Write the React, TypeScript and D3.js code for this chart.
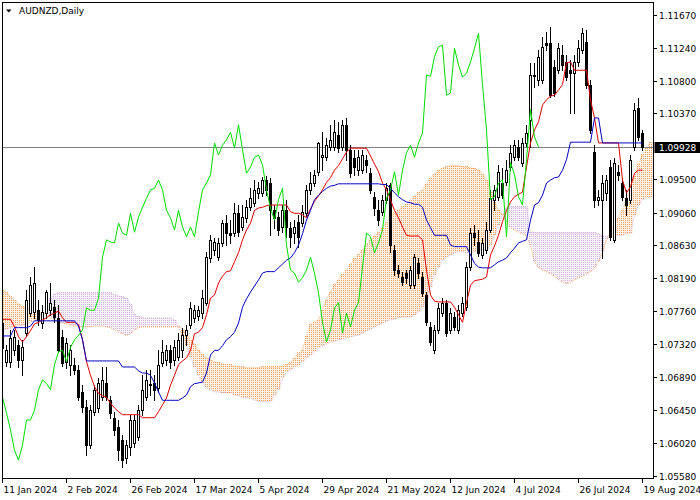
import React from 'react';
import * as d3 from 'd3';

// ---------- DATA ----------
const chartTitle = 'AUDNZD,Daily';
const dateLabels = ['11 Jan 2024', '2 Feb 2024', '26 Feb 2024', '17 Mar 2024', '5 Apr 2024', '29 Apr 2024', '21 May 2024', '12 Jun 2024', '4 Jul 2024', '26 Jul 2024', '19 Aug 2024'];
const dateLabelBars = [0, 16, 32, 48, 64, 80, 96, 112, 128, 144, 160];
const priceTicks = [1.1167, 1.1124, 1.108, 1.1037, 1.095, 1.0906, 1.0863, 1.0819, 1.0776, 1.0732, 1.0689, 1.0645, 1.0602, 1.0558];
const lastPrice = 1.09928;
const chikouShift = 26;

const opens = [
  1.0760, 1.0709, 1.0709, 1.0724, 1.0731, 1.0711, 1.0747, 1.0773, 1.0775, 1.0777,
  1.0760, 1.0773, 1.0777, 1.0781, 1.0767, 1.0742, 1.0709, 1.0705, 1.0705, 1.0698,
  1.0669, 1.0649, 1.0599, 1.0643, 1.0648, 1.0662, 1.0681, 1.0658, 1.0635, 1.0623,
  1.0606, 1.0582, 1.0596, 1.0602, 1.0610, 1.0645, 1.0662, 1.0678, 1.0681, 1.0674,
  1.0707, 1.0711, 1.0724, 1.0711, 1.0715, 1.0724, 1.0744, 1.0758, 1.0767, 1.0769,
  1.0773, 1.0787, 1.0846, 1.0857, 1.0847, 1.0866, 1.0892, 1.0879, 1.0879, 1.0905,
  1.0887, 1.0899, 1.0913, 1.0919, 1.0932, 1.0932, 1.0949, 1.0945, 1.0909, 1.0900,
  1.0887, 1.0909, 1.0886, 1.0879, 1.0894, 1.0892, 1.0905, 1.0936, 1.0945, 1.0960,
  1.0979, 1.0979, 1.0993, 1.0993, 1.1009, 1.0993, 1.1022, 1.0989, 1.0978, 1.0962,
  1.0962, 1.0976, 1.0958, 1.0927, 1.0909, 1.0907, 1.0923, 1.0942, 1.0857, 1.0830,
  1.0821, 1.0826, 1.0810, 1.0810, 1.0839, 1.0821, 1.0797, 1.0755, 1.0724, 1.0751,
  1.0773, 1.0787, 1.0751, 1.0768, 1.0751, 1.0773, 1.0781, 1.0834, 1.0879, 1.0867,
  1.0850, 1.0857, 1.0883, 1.0923, 1.0927, 1.0945, 1.0946, 1.0966, 1.0979, 1.0993,
  1.0972, 1.0998, 1.1028, 1.1088, 1.1081, 1.1081, 1.1130, 1.1130, 1.1098, 1.1094,
  1.1114, 1.1105, 1.1094, 1.1090, 1.1105, 1.1121, 1.1131, 1.1075, 1.0986, 1.0923,
  1.0923, 1.0932, 1.0966, 1.0870, 1.0960, 1.0945, 1.0925, 1.0923, 1.0993, 1.1044, 1.1011,
];
const highs = [
  1.0767, 1.0731, 1.0751, 1.0751, 1.0738, 1.0738, 1.0804, 1.0821, 1.0834, 1.0791,
  1.0784, 1.0804, 1.0813, 1.0791, 1.0784, 1.0751, 1.0740, 1.0731, 1.0714, 1.0705,
  1.0678, 1.0658, 1.0652, 1.0678, 1.0687, 1.0702, 1.0702, 1.0664, 1.0643, 1.0632,
  1.0612, 1.0606, 1.0639, 1.0639, 1.0652, 1.0691, 1.0698, 1.0698, 1.0691, 1.0724,
  1.0738, 1.0731, 1.0731, 1.0738, 1.0747, 1.0754, 1.0758, 1.0788, 1.0784, 1.0783,
  1.0804, 1.0854, 1.0876, 1.0873, 1.0873, 1.0896, 1.0903, 1.0896, 1.0919, 1.0916,
  1.0916, 1.0923, 1.0938, 1.0949, 1.0946, 1.0953, 1.0954, 1.0952, 1.0916, 1.0907,
  1.0916, 1.0923, 1.0894, 1.0896, 1.0903, 1.0916, 1.0942, 1.0960, 1.0962, 1.0999,
  1.1012, 1.1005, 1.1022, 1.1028, 1.1026, 1.1028, 1.1031, 1.0995, 1.0989, 1.0989,
  1.0989, 1.0982, 1.0965, 1.0933, 1.0923, 1.0929, 1.0945, 1.0945, 1.0863, 1.0837,
  1.0828, 1.0830, 1.0835, 1.0851, 1.0846, 1.0828, 1.0801, 1.0761, 1.0758, 1.0787,
  1.0793, 1.0791, 1.0780, 1.0775, 1.0784, 1.0794, 1.0841, 1.0886, 1.0890, 1.0883,
  1.0873, 1.0894, 1.0936, 1.0942, 1.0969, 1.0965, 1.0976, 1.0995, 1.1002, 1.1002,
  1.1005, 1.1022, 1.1104, 1.1104, 1.1121, 1.1138, 1.1145, 1.1151, 1.1108, 1.1130,
  1.1127, 1.1114, 1.1108, 1.1114, 1.1134, 1.1150, 1.1147, 1.1081, 1.0995, 1.0936,
  1.0956, 1.0956, 1.0976, 1.0978, 1.0969, 1.0952, 1.0936, 1.0982, 1.1051, 1.1057, 1.1015,
];
const lows = [
  1.0722, 1.0703, 1.0702, 1.0718, 1.0702, 1.0691, 1.0743, 1.0769, 1.0767, 1.0758,
  1.0754, 1.0767, 1.0771, 1.0761, 1.0722, 1.0703, 1.0701, 1.0691, 1.0693, 1.0658,
  1.0643, 1.0586, 1.0595, 1.0639, 1.0643, 1.0658, 1.0658, 1.0635, 1.0612, 1.0579,
  1.0570, 1.0575, 1.0586, 1.0596, 1.0606, 1.0639, 1.0658, 1.0665, 1.0658, 1.0669,
  1.0703, 1.0705, 1.0701, 1.0705, 1.0711, 1.0715, 1.0731, 1.0754, 1.0761, 1.0764,
  1.0767, 1.0784, 1.0841, 1.0850, 1.0843, 1.0862, 1.0863, 1.0866, 1.0875, 1.0875,
  1.0883, 1.0894, 1.0909, 1.0915, 1.0925, 1.0928, 1.0929, 1.0876, 1.0886, 1.0876,
  1.0880, 1.0874, 1.0861, 1.0866, 1.0861, 1.0888, 1.0902, 1.0930, 1.0941, 1.0956,
  1.0962, 1.0976, 1.0989, 1.0989, 1.0986, 1.0989, 1.0976, 1.0953, 1.0956, 1.0956,
  1.0958, 1.0960, 1.0932, 1.0903, 1.0890, 1.0903, 1.0919, 1.0854, 1.0824, 1.0821,
  1.0810, 1.0813, 1.0806, 1.0806, 1.0820, 1.0796, 1.0758, 1.0731, 1.0720, 1.0747,
  1.0769, 1.0743, 1.0747, 1.0751, 1.0747, 1.0769, 1.0777, 1.0830, 1.0863, 1.0849,
  1.0846, 1.0853, 1.0880, 1.0909, 1.0923, 1.0925, 1.0942, 1.0962, 1.0976, 1.0976,
  1.0968, 1.0994, 1.0993, 1.1072, 1.1075, 1.1077, 1.1121, 1.1059, 1.1060, 1.1090,
  1.1094, 1.1081, 1.1038, 1.1038, 1.1100, 1.1117, 1.1071, 1.1011, 1.0913, 1.0916,
  1.0846, 1.0923, 1.0870, 1.0867, 1.0949, 1.0923, 1.0903, 1.0919, 1.0989, 1.1002, 1.0989,
];
const closes = [
  1.0727, 1.0724, 1.0740, 1.0742, 1.0711, 1.0728, 1.0791, 1.0810, 1.0813, 1.0764,
  1.0775, 1.0801, 1.0787, 1.0768, 1.0724, 1.0707, 1.0734, 1.0724, 1.0698, 1.0662,
  1.0649, 1.0599, 1.0645, 1.0672, 1.0681, 1.0685, 1.0662, 1.0641, 1.0619, 1.0592,
  1.0579, 1.0599, 1.0632, 1.0632, 1.0645, 1.0672, 1.0685, 1.0680, 1.0672, 1.0705,
  1.0722, 1.0724, 1.0709, 1.0728, 1.0738, 1.0744, 1.0751, 1.0780, 1.0777, 1.0777,
  1.0793, 1.0847, 1.0870, 1.0867, 1.0866, 1.0892, 1.0879, 1.0876, 1.0905, 1.0880,
  1.0900, 1.0913, 1.0925, 1.0936, 1.0938, 1.0949, 1.0936, 1.0909, 1.0899, 1.0883,
  1.0909, 1.0887, 1.0874, 1.0887, 1.0874, 1.0907, 1.0936, 1.0945, 1.0956, 1.0998,
  1.0982, 1.0995, 1.1002, 1.1012, 1.0991, 1.1022, 1.0989, 1.0958, 1.0966, 1.0979,
  1.0982, 1.0969, 1.0936, 1.0912, 1.0896, 1.0923, 1.0938, 1.0863, 1.0830, 1.0826,
  1.0814, 1.0820, 1.0830, 1.0847, 1.0826, 1.0800, 1.0761, 1.0735, 1.0751, 1.0780,
  1.0787, 1.0747, 1.0773, 1.0755, 1.0777, 1.0787, 1.0834, 1.0879, 1.0874, 1.0853,
  1.0866, 1.0883, 1.0925, 1.0936, 1.0960, 1.0929, 1.0962, 1.0985, 1.0995, 1.0979,
  1.0998, 1.1011, 1.1088, 1.1086, 1.1112, 1.1125, 1.1127, 1.1061, 1.1064, 1.1123,
  1.1101, 1.1085, 1.1090, 1.1105, 1.1123, 1.1143, 1.1075, 1.1015, 1.0923, 1.0927,
  1.0945, 1.0949, 1.0874, 1.0972, 1.0956, 1.0927, 1.0916, 1.0976, 1.1042, 1.1006, 1.09928,
];
const tenkan = [
  1.0765, 1.0765, 1.0765, 1.0755, 1.0742, 1.0735, 1.0742, 1.0750, 1.0759, 1.0761,
  1.0764, 1.0767, 1.0771, 1.0773, 1.0776, 1.0767, 1.0761, 1.0761, 1.0761, 1.0758,
  1.0738, 1.0709, 1.0691, 1.0676, 1.0667, 1.0664, 1.0662, 1.0654, 1.0648, 1.0643,
  1.0639, 1.0639, 1.0639, 1.0639, 1.0639, 1.0635, 1.0635, 1.0635, 1.0635, 1.0643,
  1.0652, 1.0661, 1.0678, 1.0691, 1.0705, 1.0710, 1.0714, 1.0724, 1.0746, 1.0748,
  1.0754, 1.0771, 1.0793, 1.0797, 1.0813, 1.0822, 1.0828, 1.0829, 1.0841, 1.0853,
  1.0870, 1.0883, 1.0892, 1.0909, 1.0912, 1.0913, 1.0915, 1.0916, 1.0916, 1.0916,
  1.0916, 1.0916, 1.0907, 1.0905, 1.0905, 1.0903, 1.0899, 1.0911, 1.0921, 1.0928,
  1.0936, 1.0946, 1.0952, 1.0962, 1.0968, 1.0977, 1.0986, 1.0991, 1.0991, 1.0991,
  1.0991, 1.0991, 1.0981, 1.0970, 1.0960, 1.0945, 1.0936, 1.0923, 1.0909, 1.0899,
  1.0887, 1.0876, 1.0875, 1.0875, 1.0875, 1.0870, 1.0830, 1.0797, 1.0789, 1.0788,
  1.0788, 1.0788, 1.0788, 1.0781, 1.0771, 1.0761, 1.0787, 1.0810, 1.0816, 1.0817,
  1.0818, 1.0821, 1.0850, 1.0862, 1.0876, 1.0894, 1.0909, 1.0920, 1.0927, 1.0930,
  1.0933, 1.0966, 1.0998, 1.1015, 1.1026, 1.1048, 1.1055, 1.1060, 1.1061, 1.1068,
  1.1075, 1.1104, 1.1105, 1.1094, 1.1094, 1.1094, 1.1094, 1.1055, 1.1031, 1.0998,
  1.0998, 1.0998, 1.0998, 1.0998, 1.0998, 1.0949, 1.0932, 1.0940, 1.0958, 1.0962, 1.0962,
];
const kijun = [
  1.0743, 1.0743, 1.0743, 1.0754, 1.0754, 1.0754, 1.0754, 1.0756, 1.0763, 1.0763,
  1.0763, 1.0763, 1.0763, 1.0763, 1.0763, 1.0763, 1.0763, 1.0763, 1.0763, 1.0756,
  1.0738, 1.0710, 1.0710, 1.0710, 1.0710, 1.0710, 1.0710, 1.0710, 1.0710, 1.0710,
  1.0702, 1.0702, 1.0702, 1.0702, 1.0697, 1.0694, 1.0694, 1.0691, 1.0681, 1.0669,
  1.0658, 1.0658, 1.0658, 1.0658, 1.0658, 1.0661, 1.0665, 1.0676, 1.0680, 1.0681,
  1.0682, 1.0694, 1.0718, 1.0724, 1.0724, 1.0730, 1.0738, 1.0742, 1.0748, 1.0760,
  1.0781, 1.0792, 1.0801, 1.0809, 1.0817, 1.0826, 1.0828, 1.0828, 1.0828, 1.0833,
  1.0838, 1.0843, 1.0846, 1.0853, 1.0863, 1.0878, 1.0896, 1.0909, 1.0923, 1.0929,
  1.0934, 1.0938, 1.0941, 1.0942, 1.0944, 1.0944, 1.0944, 1.0944, 1.0944, 1.0944,
  1.0944, 1.0944, 1.0944, 1.0944, 1.0944, 1.0943, 1.0943, 1.0938, 1.0932, 1.0927,
  1.0923, 1.0920, 1.0919, 1.0917, 1.0917, 1.0913, 1.0896, 1.0886, 1.0876, 1.0876,
  1.0876, 1.0876, 1.0863, 1.0861, 1.0861, 1.0861, 1.0861, 1.0850, 1.0839, 1.0834,
  1.0833, 1.0833, 1.0833, 1.0837, 1.0841, 1.0843, 1.0846, 1.0853, 1.0859, 1.0866,
  1.0868, 1.0870, 1.0896, 1.0916, 1.0919, 1.0929, 1.0945, 1.0949, 1.0952, 1.0953,
  1.0962, 1.0976, 1.0999, 1.0999, 1.0999, 1.0999, 1.0999, 1.0999, 1.1031, 1.1031,
  1.0998, 1.0998, 1.0998, 1.0998, 1.0998, 1.0998, 1.0998, 1.0998, 1.0998, 1.0998, 1.0998,
];
const senkouA = [
  1.0804, 1.0800, 1.0794, 1.0791, 1.0785, 1.0781, 1.0779, 1.0777, 1.0776, 1.0775,
  1.0773, 1.0772, 1.0767, 1.0764, 1.0761, 1.0760, 1.0759, 1.0758, 1.0756, 1.0756,
  1.0755, 1.0755, 1.0755, 1.0756, 1.0756, 1.0756, 1.0755, 1.0754, 1.0751, 1.0748,
  1.0746, 1.0744, 1.0746, 1.0751, 1.0754, 1.0755, 1.0755, 1.0755, 1.0755, 1.0755,
  1.0755, 1.0755, 1.0755, 1.0755, 1.0756, 1.0751, 1.0744, 1.0738, 1.0731, 1.0724,
  1.0718, 1.0714, 1.0711, 1.0709, 1.0707, 1.0706, 1.0705, 1.0705, 1.0703, 1.0702,
  1.0702, 1.0701, 1.0701, 1.0701, 1.0701, 1.0702, 1.0702, 1.0702, 1.0702, 1.0702,
  1.0703, 1.0705, 1.0707, 1.0714, 1.0720, 1.0724, 1.0743, 1.0758, 1.0761, 1.0764,
  1.0777, 1.0791, 1.0801, 1.0810, 1.0817, 1.0825, 1.0830, 1.0837, 1.0845, 1.0850,
  1.0857, 1.0863, 1.0870, 1.0875, 1.0879, 1.0886, 1.0894, 1.0900, 1.0905, 1.0909,
  1.0913, 1.0917, 1.0923, 1.0927, 1.0932, 1.0936, 1.0944, 1.0952, 1.0957, 1.0961,
  1.0965, 1.0966, 1.0968, 1.0968, 1.0968, 1.0966, 1.0966, 1.0965, 1.0964, 1.0962,
  1.0957, 1.0949, 1.0933, 1.0919, 1.0909, 1.0903, 1.0894, 1.0886, 1.0883, 1.0880,
  1.0878, 1.0875, 1.0863, 1.0841, 1.0833, 1.0830, 1.0828, 1.0825, 1.0822, 1.0818,
  1.0814, 1.0812, 1.0814, 1.0817, 1.0820, 1.0822, 1.0825, 1.0828, 1.0833, 1.0841,
  1.0854, 1.0870, 1.0880, 1.0890, 1.0899, 1.0909, 1.0923, 1.0936, 1.0953, 1.0969,
  1.0982, 1.0991, 1.0999,
];
const senkouB = [
  1.0751, 1.0752, 1.0754, 1.0755, 1.0756, 1.0758, 1.0759, 1.0761, 1.0764, 1.0767,
  1.0775, 1.0784, 1.0793, 1.0798, 1.0800, 1.0800, 1.0800, 1.0800, 1.0800, 1.0800,
  1.0800, 1.0800, 1.0800, 1.0800, 1.0800, 1.0800, 1.0800, 1.0800, 1.0797, 1.0796,
  1.0794, 1.0793, 1.0784, 1.0771, 1.0768, 1.0767, 1.0767, 1.0767, 1.0767, 1.0767,
  1.0767, 1.0767, 1.0767, 1.0764, 1.0754, 1.0744, 1.0731, 1.0715, 1.0702, 1.0691,
  1.0681, 1.0674, 1.0672, 1.0669, 1.0669, 1.0668, 1.0668, 1.0668, 1.0665, 1.0664,
  1.0662, 1.0661, 1.0661, 1.0658, 1.0657, 1.0656, 1.0656, 1.0657, 1.0664, 1.0672,
  1.0687, 1.0695, 1.0698, 1.0702, 1.0705, 1.0709, 1.0714, 1.0718, 1.0722, 1.0727,
  1.0730, 1.0732, 1.0735, 1.0736, 1.0738, 1.0739, 1.0740, 1.0742, 1.0743, 1.0744,
  1.0747, 1.0750, 1.0752, 1.0755, 1.0758, 1.0760, 1.0763, 1.0764, 1.0765, 1.0767,
  1.0768, 1.0768, 1.0768, 1.0771, 1.0775, 1.0781, 1.0793, 1.0808, 1.0824, 1.0834,
  1.0843, 1.0847, 1.0850, 1.0853, 1.0854, 1.0854, 1.0853, 1.0853, 1.0854, 1.0857,
  1.0857, 1.0857, 1.0863, 1.0876, 1.0890, 1.0903, 1.0912, 1.0913, 1.0913, 1.0913,
  1.0913, 1.0913, 1.0879, 1.0879, 1.0879, 1.0879, 1.0879, 1.0879, 1.0879, 1.0879,
  1.0879, 1.0879, 1.0879, 1.0879, 1.0879, 1.0879, 1.0879, 1.0879, 1.0879, 1.0878,
  1.0875, 1.0874, 1.0874, 1.0875, 1.0875, 1.0876, 1.0878, 1.0879, 1.0903, 1.0916,
  1.0923, 1.0925, 1.0927,
];

// ---------- CHART ----------
const FONT = '"DejaVu Sans", Verdana, sans-serif';
const ORANGE = '#F4A460';
const THISTLE = '#D2B4DC';
const ORANGE_FILL = '#FDF0E6';
const THISTLE_FILL = '#F8F2FA';

export default function App() {
  const W = 700;
  const H = 500;
  const frame = { l: 2.5, t: 2.5, r: 653.5, b: 478.5 };

  const x = d3.scaleLinear().domain([0, 160]).range([2.5, 642.5]);
  const y = d3.scaleLinear().domain([1.0558, 1.1167]).range([476, 15]);
  const py = (v: number) => Math.round(y(v));

  const line = d3
    .line<[number, number]>()
    .x((d) => x(d[0]))
    .y((d) => y(d[1]));

  const tenkanPath = line(tenkan.map((v, i) => [i, v] as [number, number])) || '';
  const kijunPath = line(kijun.map((v, i) => [i, v] as [number, number])) || '';
  const chikouPath = line(closes.map((v, i) => [i - chikouShift, v] as [number, number])) || '';
  const spanAPath = line(senkouA.map((v, i) => [i, v] as [number, number])) || '';
  const spanBPath = line(senkouB.map((v, i) => [i, v] as [number, number])) || '';

  // cloud: faint tint plus vertical dotted strokes between span A and span B
  const tint: JSX.Element[] = [];
  const hatch: JSX.Element[] = [];
  senkouA.forEach((a, i) => {
    const b = senkouB[i];
    const ya = py(a);
    const yb = py(b);
    let top = Math.min(ya, yb);
    const bot = Math.max(ya, yb);
    const up = a >= b;
    const col = up ? ORANGE : THISTLE;
    const cx = x(i);
    tint.push(
      <rect key={`t${i}`} x={cx - 2} y={top} width={4} height={bot - top} fill={up ? ORANGE_FILL : THISTLE_FILL} />
    );
    if (top % 2 !== 0) top -= 1;
    [-1, 1].forEach((dx) => {
      hatch.push(
        <line
          key={`h${i}_${dx}`}
          x1={cx + dx}
          x2={cx + dx}
          y1={top}
          y2={bot}
          stroke={col}
          strokeWidth={1}
          strokeDasharray="1,1"
        />
      );
    });
  });

  const candles = opens.map((o, i) => {
    const c = closes[i];
    const h = highs[i];
    const l = lows[i];
    const cx = x(i);
    const yTop = py(Math.max(o, c));
    const yBot = py(Math.min(o, c));
    const bull = c >= o;
    const parts: JSX.Element[] = [];
    parts.push(
      <line key="w" x1={cx} x2={cx} y1={py(h)} y2={py(l) + 1} stroke="#000" strokeWidth={1} />
    );
    if (yBot - yTop < 1) {
      parts.push(
        <line key="b" x1={cx - 1.5} x2={cx + 1.5} y1={yTop + 0.5} y2={yTop + 0.5} stroke="#000" strokeWidth={1} />
      );
    } else if (bull) {
      parts.push(
        <rect key="b" x={cx - 1} y={yTop + 0.5} width={2} height={yBot - yTop} fill="#fff" stroke="#000" strokeWidth={1} />
      );
    } else {
      parts.push(<rect key="b" x={cx - 1.5} y={yTop} width={3} height={yBot - yTop + 1} fill="#000" />);
    }
    return <g key={`c${i}`}>{parts}</g>;
  });

  const lastY = py(lastPrice) + 0.5;

  return (
    <svg
      width={W}
      height={H}
      viewBox={`0 0 ${W} ${H}`}
      style={{ position: 'absolute', left: 0, top: 0, background: '#fff' }}
    >
      <defs>
        <clipPath id="plotClip">
          <rect x={3} y={3} width={650} height={475} />
        </clipPath>
      </defs>
      <rect x={0} y={0} width={W} height={H} fill="#fff" />

      <g clipPath="url(#plotClip)">
        <g shapeRendering="crispEdges">{tint}</g>
        <g shapeRendering="crispEdges">{hatch}</g>
        <path d={spanAPath} fill="none" stroke={ORANGE} strokeWidth={1} strokeDasharray="1,1" />
        <path d={spanBPath} fill="none" stroke={THISTLE} strokeWidth={1} strokeDasharray="1,1" />
        <line x1={3} x2={653} y1={lastY} y2={lastY} stroke="#808080" strokeWidth={1} />
        <g shapeRendering="crispEdges">{candles}</g>
        <path d={tenkanPath} fill="none" stroke="#e00000" strokeWidth={1} />
        <path d={kijunPath} fill="none" stroke="#0000c0" strokeWidth={1} />
        <path d={chikouPath} fill="none" stroke="#00dd00" strokeWidth={1} />
      </g>

      {/* frame */}
      <rect
        x={frame.l}
        y={frame.t}
        width={frame.r - frame.l}
        height={frame.b - frame.t}
        fill="none"
        stroke="#000"
        strokeWidth={1}
        shapeRendering="crispEdges"
      />

      {/* title */}
      <polygon points="6,9.5 11.5,9.5 8.75,12.5" fill="#000" />
      <text x={19} y={14} fontFamily={FONT} fontSize={9} fill="#000">
        {chartTitle}
      </text>

      {/* price axis */}
      {priceTicks.map((t) => {
        const yy = py(t) + 0.5;
        return (
          <g key={`p${t}`}>
            <line x1={653.5} x2={657} y1={yy} y2={yy} stroke="#000" strokeWidth={1} shapeRendering="crispEdges" />
            <text x={659} y={yy + 3.5} fontFamily={FONT} fontSize={9} fill="#000">
              {t.toFixed(5)}
            </text>
          </g>
        );
      })}
      <rect x={654.5} y={lastY - 5.5} width={45.5} height={11} fill="#000" />
      <text x={659} y={lastY + 3.5} fontFamily={FONT} fontSize={9} fill="#fff">
        {lastPrice.toFixed(5)}
      </text>

      {/* time axis */}
      {dateLabels.map((lab, k) => {
        const xx = x(dateLabelBars[k]);
        return (
          <g key={`d${k}`}>
            <line x1={xx} x2={xx} y1={478.5} y2={483} stroke="#000" strokeWidth={1} shapeRendering="crispEdges" />
            <text x={xx + 1} y={493} fontFamily={FONT} fontSize={9} fill="#000">
              {lab}
            </text>
          </g>
        );
      })}
    </svg>
  );
}
